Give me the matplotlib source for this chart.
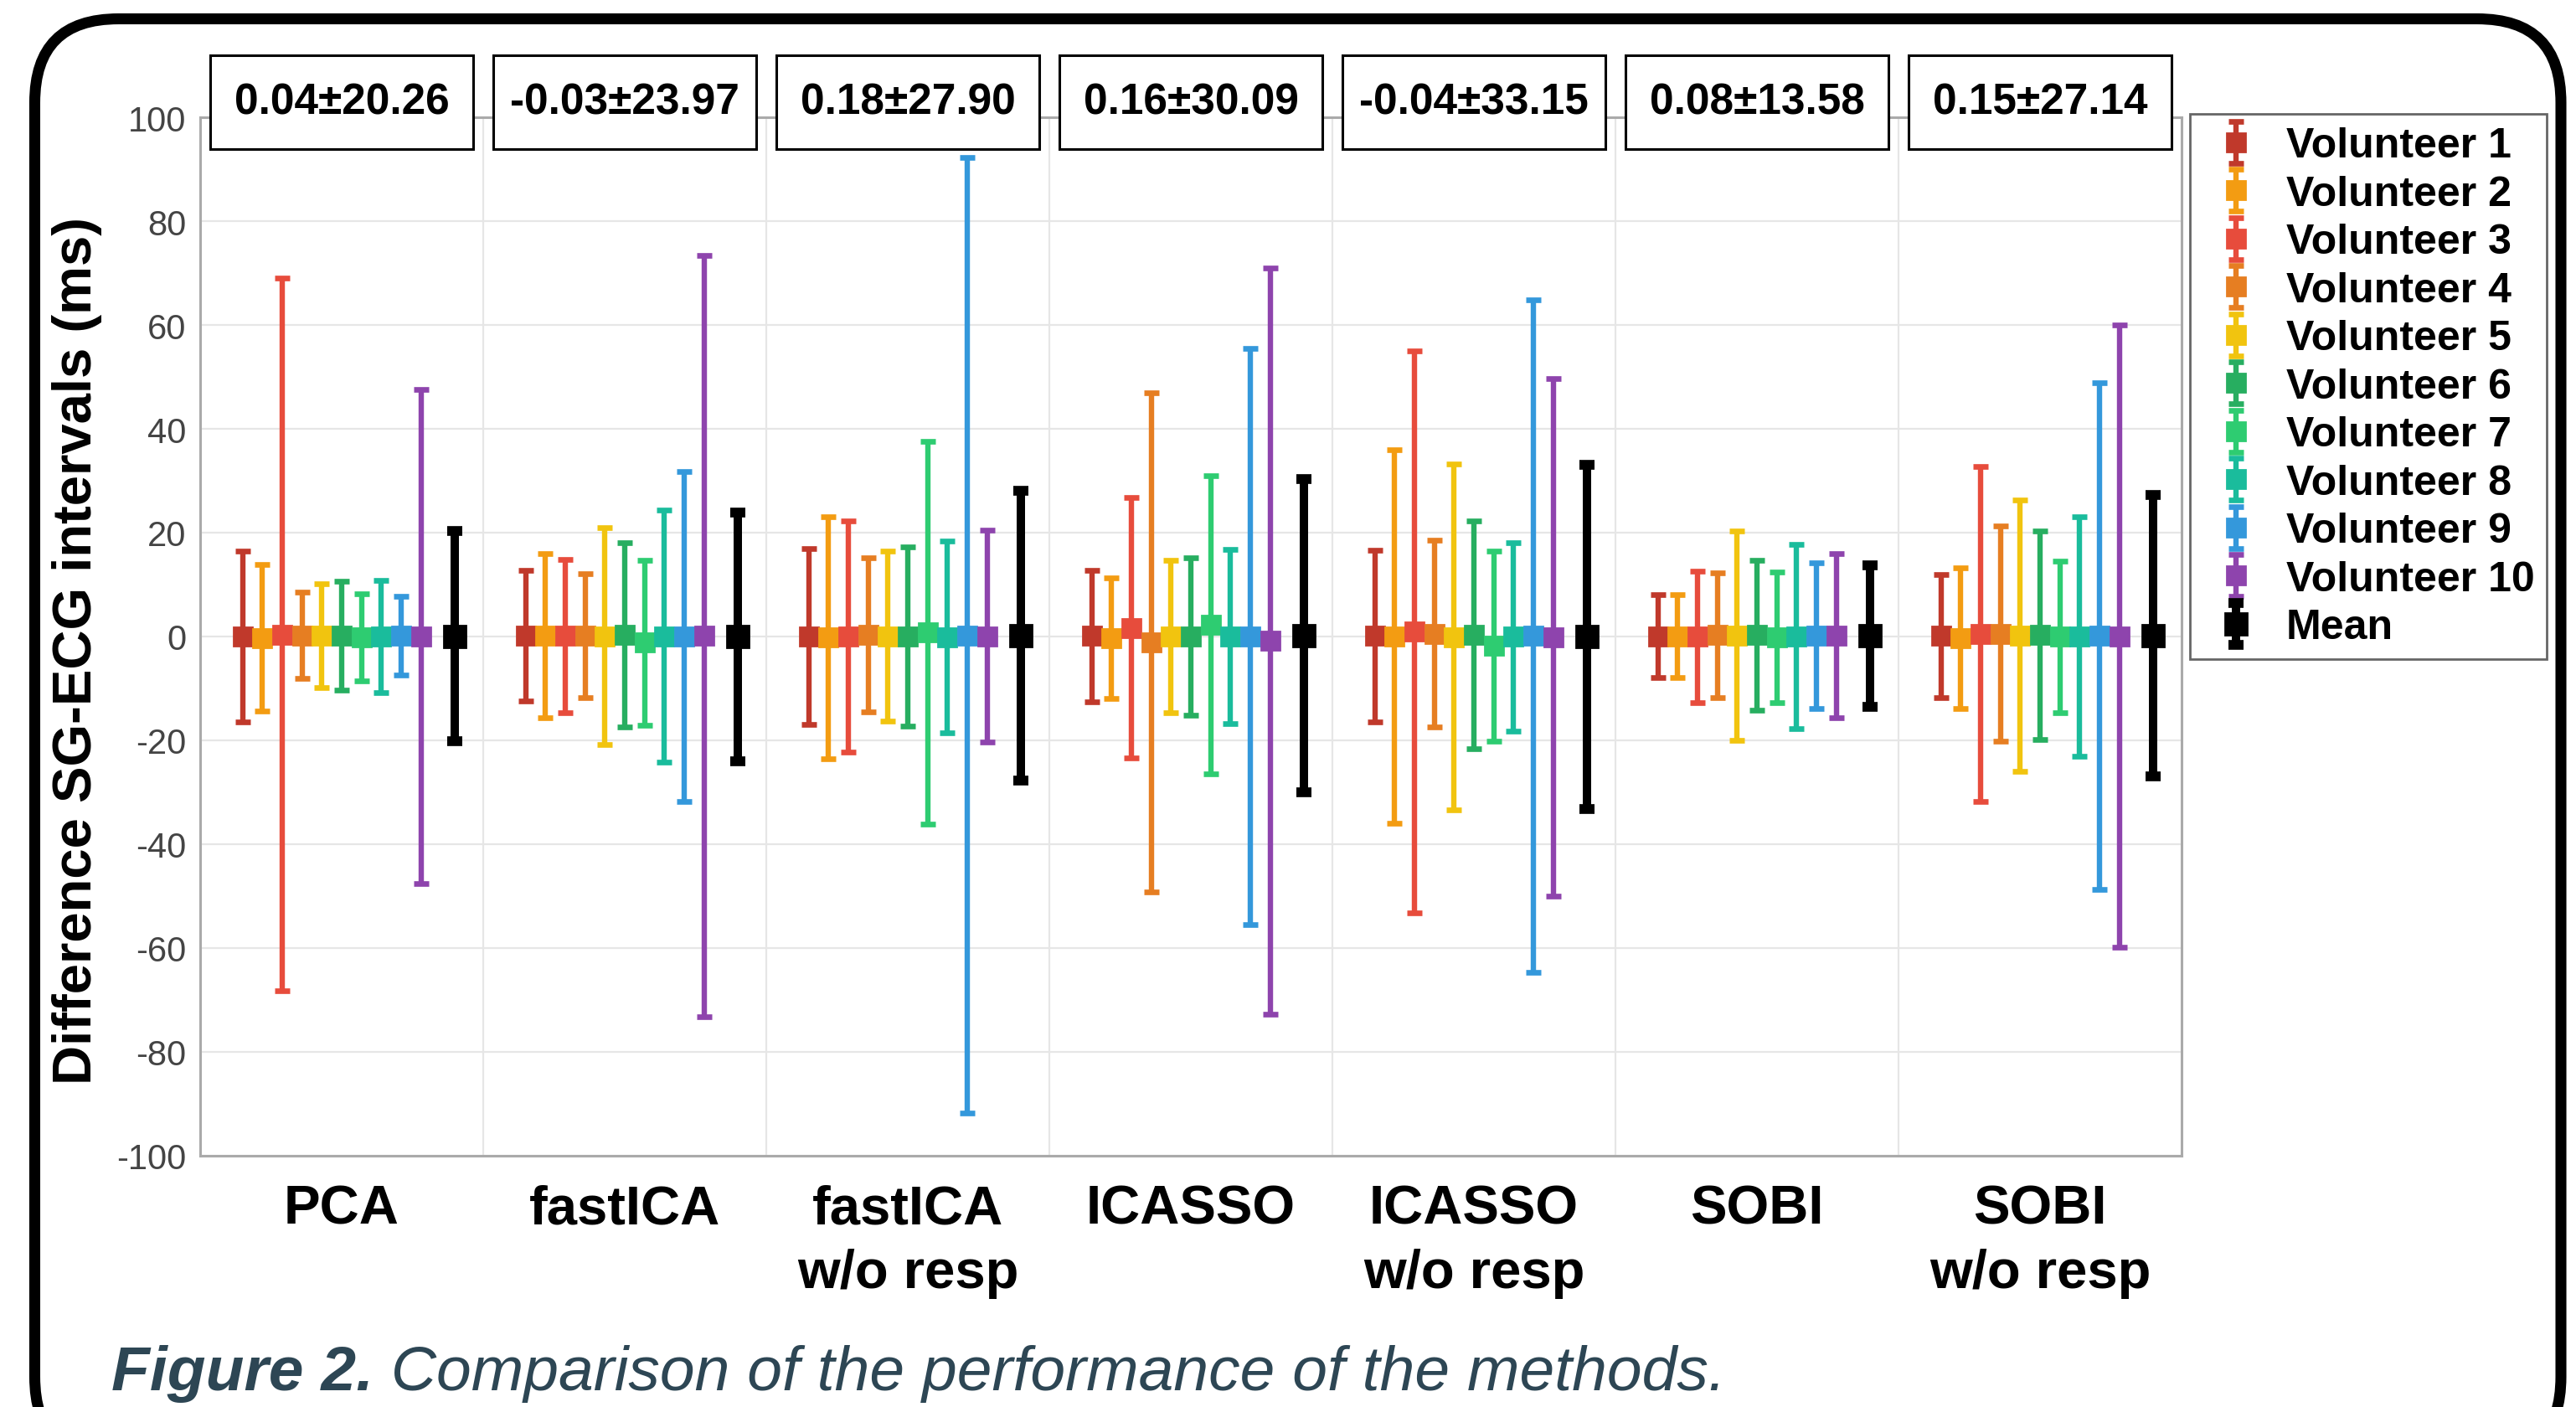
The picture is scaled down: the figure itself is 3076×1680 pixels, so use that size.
import numpy as np
import matplotlib.pyplot as plt
from matplotlib.patches import Rectangle, FancyBboxPatch
from matplotlib.transforms import blended_transform_factory, IdentityTransform

plt.rcParams['font.family'] = ['Liberation Sans', 'DejaVu Sans']
plt.rcParams['axes.unicode_minus'] = False

methods = ['PCA', 'fastICA', 'fastICA\nw/o resp', 'ICASSO', 'ICASSO\nw/o resp',
           'SOBI', 'SOBI\nw/o resp']
volunteers = ['Volunteer %d' % i for i in range(1, 11)]
colors = ['#C0392B', '#F39C12', '#E74C3C', '#E67E22', '#F1C40F',
          '#27AE60', '#2ECC71', '#1ABC9C', '#3498DB', '#8E44AD']

# one row per volunteer, one column per method (ms)
vol_mean = [
    [0.0, 0.15, 0.0, 0.1, 0.1, 0.05, 0.1],
    [-0.25, 0.15, -0.2, -0.35, 0.0, 0.05, -0.25],
    [0.4, 0.15, 0.0, 1.65, 0.9, -0.05, 0.5],
    [0.2, 0.2, 0.3, -1.15, 0.5, 0.25, 0.55],
    [0.2, 0.05, 0.05, 0.0, -0.1, 0.2, 0.2],
    [0.1, 0.25, -0.05, 0.0, 0.3, 0.25, 0.3],
    [-0.15, -1.2, 0.75, 2.25, -1.85, -0.2, -0.05],
    [0.0, 0.05, -0.1, -0.05, -0.05, 0.0, -0.05],
    [0.1, -0.05, 0.2, 0.0, 0.1, 0.15, 0.1],
    [0.0, 0.1, 0.05, -0.85, -0.2, 0.15, 0.05],
]
vol_sd = [
    [16.4, 12.65, 17.0, 12.7, 16.5, 7.95, 11.8],
    [14.15, 15.75, 23.3, 11.65, 36.0, 7.95, 13.55],
    [68.7, 14.75, 22.2, 25.05, 54.1, 12.65, 32.3],
    [8.3, 11.9, 14.8, 48.05, 18.0, 11.95, 20.75],
    [10.0, 20.85, 16.35, 14.7, 33.3, 20.2, 26.1],
    [10.5, 17.75, 17.25, 15.2, 21.9, 14.45, 20.1],
    [8.35, 15.9, 36.85, 28.75, 18.35, 12.6, 14.55],
    [10.8, 24.25, 18.5, 16.75, 18.15, 17.8, 23.05],
    [7.6, 31.75, 92.0, 55.5, 64.8, 14.05, 48.8],
    [47.6, 73.3, 20.45, 71.85, 49.8, 15.85, 59.95],
]
overall_mean = [0.04, -0.03, 0.18, 0.16, -0.04, 0.08, 0.15]
overall_sd = [20.26, 23.97, 27.90, 30.09, 33.15, 13.58, 27.14]

fig = plt.figure(figsize=(15.38, 8.405), dpi=200)
ax = fig.add_axes([0.0777, 0.1785, 0.7692, 0.7376])

x = np.arange(len(methods))
step = 0.07
for i, lab in enumerate(volunteers):
    ax.errorbar(x + (i - 5) * step, vol_mean[i], yerr=vol_sd[i], fmt='s',
                color=colors[i], ms=7.9, elinewidth=2.3, capsize=3.4,
                capthick=2.4, label=lab, zorder=3)
ax.errorbar(x + 0.4, overall_mean, yerr=overall_sd, fmt='s', color='black',
            ms=9.7, elinewidth=3.6, capsize=3.4, capthick=4.2, label='Mean',
            zorder=3)

ax.set_xlim(-0.5, len(methods) - 0.5)
ax.set_ylim(-100, 100)
ax.set_yticks(np.arange(-100, 101, 20))
ax.set_xticks(x)
ax.set_xticklabels(methods, fontsize=23.5, fontweight='bold', va='top',
                   linespacing=1.35)
ax.set_xticks(np.arange(0.5, len(methods) - 0.5), minor=True)
ax.tick_params(axis='y', length=0, pad=6, labelsize=15, labelcolor='#444444')
ax.tick_params(axis='x', which='both', length=0, pad=12)
ax.grid(axis='y', color='#e6e6e6', lw=0.8, zorder=0)
ax.grid(axis='x', which='minor', color='#e6e6e6', lw=0.8, zorder=0)
for s in ax.spines.values():
    s.set_color('#aaaaaa')
    s.set_linewidth(1.1)

ax.set_ylabel('Difference SG-ECG intervals (ms)', fontsize=23.5,
              fontweight='bold', va='center')
ax.yaxis.set_label_coords(-0.062, 0.487)

# summary boxes above each group
tr = blended_transform_factory(ax.transData, fig.transFigure)
for xi, m, s in zip(x, overall_mean, overall_sd):
    ax.add_patch(Rectangle((xi - 0.465, 0.8935), 0.93, 0.0666, transform=tr,
                           facecolor='white', edgecolor='black', lw=1.1,
                           clip_on=False, zorder=5))
    ax.text(xi, 0.9268, '%.2f±%.2f' % (m, s), transform=tr, ha='center',
            va='center', fontsize=18.5, fontweight='bold', zorder=6)

leg = ax.legend(loc='upper left', bbox_to_anchor=(0.850, 0.9185),
                bbox_transform=fig.transFigure, borderaxespad=0,
                prop={'size': 18, 'weight': 'bold'}, fancybox=False,
                edgecolor='#666666', framealpha=1, handlelength=1.6,
                handletextpad=0.4, borderpad=0.3, labelspacing=0.23)
leg.get_frame().set_linewidth(1.0)

# caption: bold lead-in followed by the plain italic sentence
cap1 = fig.text(0.0432, 0.0125, 'Figure 2.', fontsize=27, fontweight='bold',
                style='italic', color='#2d4654', va='baseline')
ax.annotate(' Comparison of the performance of the methods.', xy=(1, 0),
            xycoords=cap1, va='bottom', ha='left', fontsize=27,
            style='italic', color='#2d4654', annotation_clip=False)

# rounded frame around the whole figure (pixel coordinates)
frame = FancyBboxPatch((41.5, -64), 3016.5, 1721.5,
                       boxstyle='round,pad=0,rounding_size=100',
                       transform=IdentityTransform(), facecolor='none',
                       edgecolor='black', lw=4.7, clip_on=False)
fig.patches.append(frame)

fig.savefig('out.png', dpi=200)
